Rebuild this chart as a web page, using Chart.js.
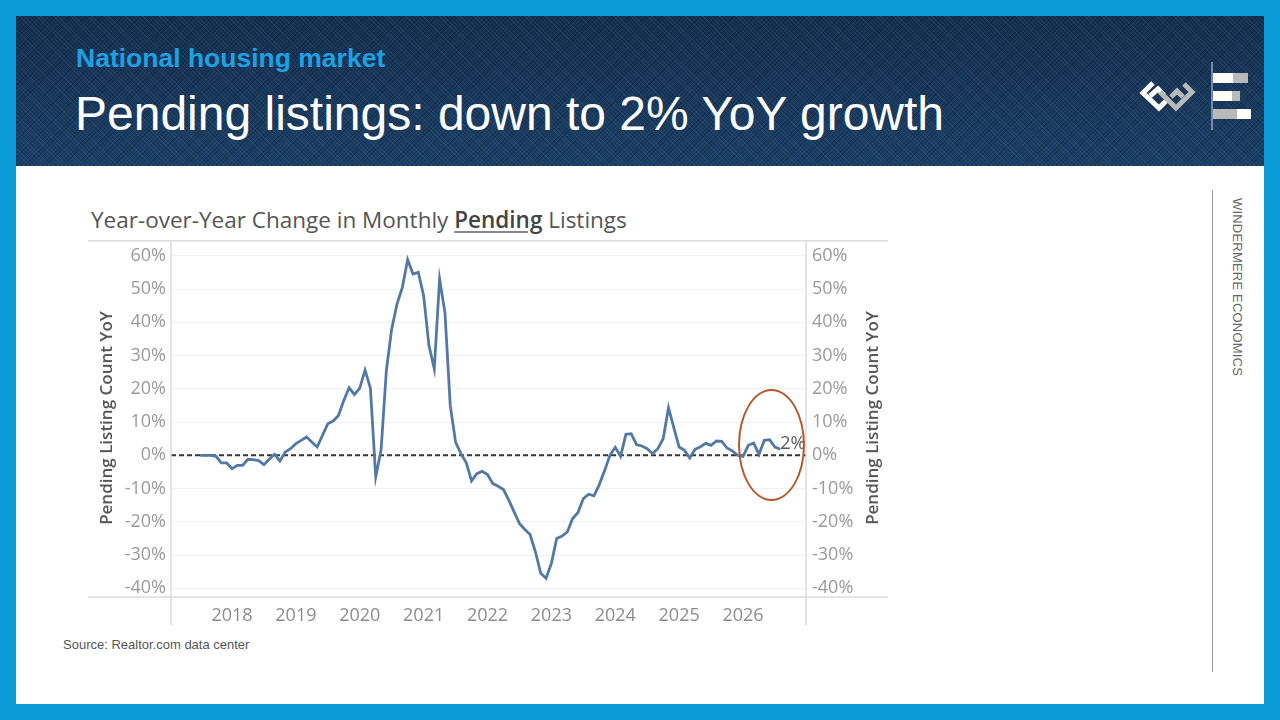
<!DOCTYPE html>
<html>
<head>
<meta charset="utf-8">
<script src="https://cdn.jsdelivr.net/npm/chart.js@4.4.1/dist/chart.umd.min.js"></script>
<style>
  html, body { margin: 0; padding: 0; }
  body { width: 1280px; height: 720px; position: relative; overflow: hidden; background: #0b9bd7; font-family: "Liberation Sans", Arial, sans-serif; }
  #header {
    position: absolute; left: 16px; top: 16px; width: 1248px; height: 150px;
    background-color: #17395f;
    background-image:
      repeating-linear-gradient(45deg, rgba(255,255,255,0.05) 0 1px, transparent 1px 3px),
      repeating-linear-gradient(-45deg, rgba(0,0,0,0.18) 0 1px, transparent 1px 3px),
      linear-gradient(180deg, #132f50 0%, #1a4068 100%);
  }
  #kicker { position: absolute; left: 60px; top: 27px; font-size: 26.5px; font-weight: bold; color: #1ea1e2; }
  #headline { position: absolute; left: 59px; top: 70px; font-size: 48px; color: #fff; white-space: nowrap; }
  #page { position: absolute; left: 16px; top: 166px; width: 1248px; height: 538px; background: #fff; }
  #chartTitle { position: absolute; left: 91px; top: 204px; font-family: "Open Sans", sans-serif; font-size: 22.5px; color: #555; white-space: nowrap; }
  #chartTitle b { font-weight: 600; color: #444; text-decoration: underline; text-decoration-color: #888; text-underline-offset: 3px; }
  #chartBox { position: absolute; left: 88px; top: 224px; width: 800px; height: 406px; }
  .axisTitle { position: absolute; width: 260px; height: 22px; line-height: 22px; text-align: center; font-family: "Open Sans", sans-serif; font-size: 17px; font-weight: 600; color: #555; transform: rotate(-90deg); white-space: nowrap; }
  #ring { position: absolute; left: 738px; top: 389px; width: 63px; height: 108px; border: 2px solid #b4582b; border-radius: 50%; }
  #source { position: absolute; left: 63px; top: 637px; font-size: 13px; color: #555; }
  #sideLine { position: absolute; left: 1212px; top: 190px; width: 1px; height: 482px; background: #9a9a9a; }
  #sideText { position: absolute; left: 1230px; top: 198px; writing-mode: vertical-rl; font-size: 13px; color: #666; letter-spacing: 0.2px; }
</style>
</head>
<body>
<div id="header">
  <div id="kicker">National housing market</div>
  <div id="headline">Pending listings: down to 2% YoY growth</div>
  <svg width="1248" height="150" style="position:absolute;left:0;top:0">
    <g transform="translate(-16,-16)">
      <polyline points="1153,83 1143,93 1159,108 1167,100" fill="none" stroke="#fff" stroke-width="5" stroke-linejoin="miter"/>
      <polyline points="1150,96 1158,89 1164,95" fill="none" stroke="#fff" stroke-width="5"/>
      <polyline points="1160,92 1176,108 1192,92 1184,84" fill="none" stroke="#b9b9b9" stroke-width="5"/>
      <polyline points="1171,97 1177,91 1183,97" fill="none" stroke="#b9b9b9" stroke-width="5"/>
      <line x1="1212" y1="62" x2="1212" y2="130" stroke="#8fa7c2" stroke-width="1.5"/>
      <rect x="1213" y="73" width="20" height="10" fill="#fff"/>
      <rect x="1233" y="73" width="15" height="10" fill="#b9b9b9"/>
      <rect x="1213" y="91" width="19" height="10" fill="#fff"/>
      <rect x="1232" y="91" width="8" height="10" fill="#b9b9b9"/>
      <rect x="1213" y="109" width="24" height="10" fill="#b9b9b9"/>
      <rect x="1237" y="109" width="14" height="10" fill="#fff"/>
    </g>
  </svg>
</div>
<div id="page"></div>
<div id="chartTitle">Year-over-Year Change in Monthly <b>Pending</b> Listings</div>
<div id="chartBox"><canvas id="yoyChart"></canvas></div>
<div class="axisTitle" style="left:-24px;top:407px">Pending Listing Count YoY</div>
<div class="axisTitle" style="left:742px;top:407px">Pending Listing Count YoY</div>
<div id="ring"></div>
<div id="source">Source: Realtor.com data center</div>
<div id="sideLine"></div>
<div id="sideText">WINDERMERE ECONOMICS</div>

<script>
    // first month of the series
    const startYear = 2017;
    const startMonth = 7;

    // year-over-year change in monthly pending listings, %
    const yoyPct = [
        0, 0, 0, -0.3, -2.3, -2.3, -4, -3, -3, -1.2, -1.3, -1.6,
        -2.8, -1.2, 0.3, -1.7, 1, 2, 3.5, 4.5, 5.5, 4, 2.5, 6,
        9.5, 10.3, 12, 16.5, 20.3, 18.3, 20.2, 25.6, 20.2, -6.5, 1.5, 25.5,
        38, 45.5, 50.5, 58.8, 54.5, 55, 48, 33, 26, 53, 43, 15,
        4, 0.5, -2.2, -7.7, -5.5, -4.8, -5.8, -8.5, -9.3, -10.3, -13.5, -17,
        -20.5, -22.3, -23.8, -29, -35.5, -37, -32.5, -25, -24.3, -23, -19, -17.2,
        -13, -11.7, -12.2, -8.8, -4.6, 0, 2.4, -0.3, 6.3, 6.5, 3.2, 2.8,
        2, 0.5, 2, 5, 14.3, 8.3, 2.5, 1.5, -0.8, 1.8, 2.6, 3.6,
        3, 4.3, 4.2, 2.2, 1.3, 0, -0.3, 3, 3.7, 0.3, 4.5, 4.7,
        2.5, 1.8
    ];

    const yearTicks = [2018, 2019, 2020, 2021, 2022, 2023, 2024, 2025, 2026];
    const pctTicks = [-40, -30, -20, -10, 0, 10, 20, 30, 40, 50, 60];

    const xMin = 2017.045;
    const xMax = 2026.986;
    const yMin = -42.6;
    const yMax = 64.5;

    let points = yoyPct.map((v, i) => ({ x: startYear + (startMonth - 1 + i) / 12, y: v }));

    // tableau-like pane borders + end label
    const paneLines = {
        id: 'paneLines',
        afterDraw(chart) {
            let ctx = chart.ctx;
            let a = chart.chartArea;
            ctx.save();
            ctx.strokeStyle = '#dcdcdc';
            ctx.lineWidth = 1.5;
            ctx.beginPath();
            ctx.moveTo(0, a.top); ctx.lineTo(chart.width, a.top);
            ctx.moveTo(0, a.bottom); ctx.lineTo(chart.width, a.bottom);
            ctx.moveTo(a.left, a.top); ctx.lineTo(a.left, a.bottom + 28);
            ctx.moveTo(a.right, a.top); ctx.lineTo(a.right, a.bottom + 28);
            ctx.stroke();

            let last = points[points.length - 1];
            let px = chart.scales.x.getPixelForValue(last.x);
            let py = chart.scales.y.getPixelForValue(last.y);
            ctx.fillStyle = '#5a5a5a';
            ctx.font = '18px "Open Sans"';
            ctx.textBaseline = 'middle';
            ctx.fillText(Math.round(last.y) + '%', px, py - 5);
            ctx.restore();
        }
    };

    let tickFont = { family: 'Open Sans', size: 18 };

    new Chart(document.getElementById('yoyChart').getContext('2d'), {
        type: 'line',
        data: {
            datasets: [{
                label: 'Pending Listing Count YoY',
                data: points,
                borderColor: '#5279a5',
                borderWidth: 2.8,
                pointRadius: 0,
                tension: 0,
                yAxisID: 'y'
            }, {
                label: 'zero',
                data: [{ x: xMin, y: 0 }, { x: xMax, y: 0 }],
                borderColor: '#333',
                borderWidth: 2,
                borderDash: [5, 3],
                pointRadius: 0,
                yAxisID: 'y'
            }]
        },
        options: {
            responsive: true,
            maintainAspectRatio: false,
            animation: false,
            layout: { padding: { top: 4, left: 0, right: 0, bottom: 0 } },
            plugins: {
                legend: { display: false },
                tooltip: { enabled: false }
            },
            scales: {
                x: {
                    type: 'linear',
                    min: xMin,
                    max: xMax,
                    afterBuildTicks: axis => { axis.ticks = yearTicks.map(v => ({ value: v })); },
                    afterFit: axis => { axis.height = 33; },
                    grid: { display: false, drawTicks: false },
                    border: { display: false },
                    ticks: { callback: v => String(v), color: '#8c8c8c', font: tickFont, padding: 8, maxRotation: 0, autoSkip: false }
                },
                y: {
                    position: 'left',
                    min: yMin,
                    max: yMax,
                    afterBuildTicks: axis => { axis.ticks = pctTicks.map(v => ({ value: v })); },
                    afterFit: axis => { axis.width = 83; },
                    grid: { color: '#f1f1f1', lineWidth: 1, drawTicks: false },
                    border: { display: false },
                    ticks: { callback: v => v + '%', color: '#9a9a9a', font: tickFont, padding: 5 }
                },
                y2: {
                    position: 'right',
                    min: yMin,
                    max: yMax,
                    afterBuildTicks: axis => { axis.ticks = pctTicks.map(v => ({ value: v })); },
                    afterFit: axis => { axis.width = 82; },
                    grid: { display: false, drawTicks: false },
                    border: { display: false },
                    ticks: { callback: v => v + '%', color: '#9a9a9a', font: tickFont, padding: 6 }
                }
            }
        },
        plugins: [paneLines]
    });
</script>
</body>
</html>
